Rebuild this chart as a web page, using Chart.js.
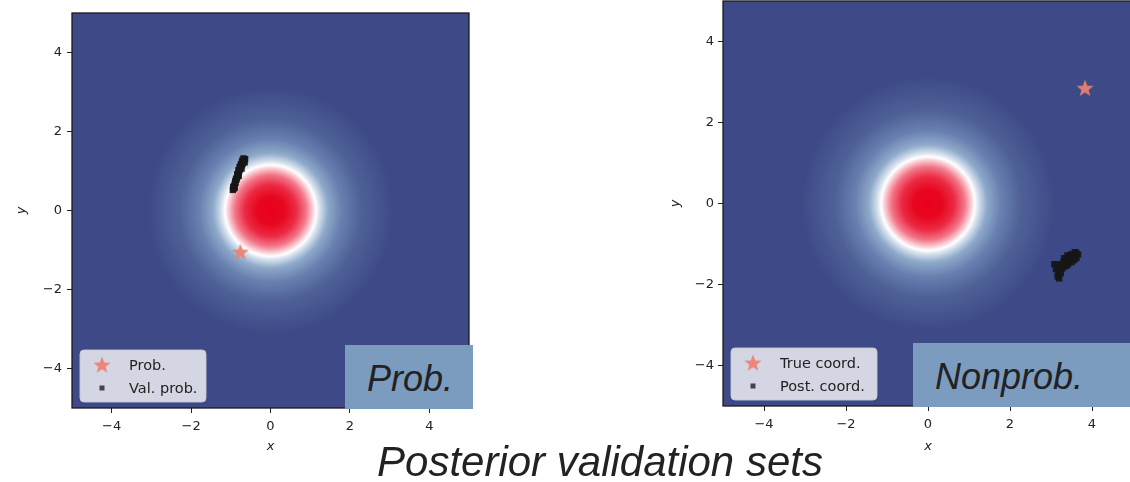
<!DOCTYPE html>
<html>
<head>
<meta charset="utf-8">
<script src="https://cdn.jsdelivr.net/npm/chart.js@4"></script>
<style>
  html, body { margin: 0; padding: 0; background: #fff; width: 1130px; height: 482px; overflow: hidden; position: relative; }
  .panel { position: absolute; top: 0; }
  .tag { position: absolute; background: #7b9bbf; overflow: hidden; }
  .tag span { position: absolute; font: italic 36px "Liberation Sans", Arial, sans-serif; line-height: 36px; color: #222; white-space: nowrap; }
  #title { position: absolute; left: 0; width: 1200px; top: 441px; text-align: center; font: italic 42px "Liberation Sans", Arial, sans-serif; line-height: 42px; color: #222; }
</style>
</head>
<body>
<canvas id="probChart" class="panel" width="480" height="460" style="left:0"></canvas>
<canvas id="nonprobChart" class="panel" width="480" height="464" style="left:660px;top:-4px"></canvas>
<div class="tag" style="left:345px;top:345px;width:128px;height:64px"><span style="left:22px;top:16px">Prob.</span></div>
<div class="tag" style="left:913px;top:343px;width:217px;height:64px"><span style="left:22px;top:16px">Nonprob.</span></div>
<div id="title">Posterior validation sets</div>
<script>
// tick values on both axes
const axisTicks = [-4, -2, 0, 2, 4];

// radial profile of the background field (distance from origin)
const fieldRadius = [0, 0.35, 0.65, 0.9, 1.05, 1.15, 1.25, 1.45, 1.8, 2.3, 3.1];
const fieldColors = ['#e8001d', '#e8061f', '#eb2a44', '#f27688', '#f9c6cd', '#ffffff',
                     '#d3dfec', '#8ea9ca', '#6880b0', '#4f6097', '#3d4a87'];

// left panel
const probTrueX = [-0.76];
const probTrueY = [-1.04];
const probValX = [-0.95, -0.93, -0.94, -0.91, -0.90, -0.88, -0.89, -0.86, -0.85, -0.87,
                  -0.83, -0.82, -0.84, -0.80, -0.79, -0.81, -0.77, -0.76, -0.78, -0.74,
                  -0.72, -0.75, -0.70, -0.69, -0.72, -0.67, -0.66, -0.70, -0.64, -0.68,
                  -0.80, -0.73, -0.90, -0.65];
const probValY = [0.52, 0.55, 0.60, 0.63, 0.68, 0.70, 0.74, 0.78, 0.82, 0.80,
                  0.86, 0.90, 0.92, 0.95, 1.00, 1.02, 1.04, 1.08, 1.10, 1.12,
                  1.15, 1.17, 1.19, 1.23, 1.24, 1.26, 1.29, 1.28, 1.30, 1.32,
                  0.88, 1.06, 0.58, 1.22];

// right panel
const nonprobTrueX = [3.83];
const nonprobTrueY = [2.86];
const nonprobPostX = [3.62, 3.66, 3.58, 3.55, 3.50, 3.45, 3.40, 3.48, 3.56, 3.38,
                      3.32, 3.42, 3.30, 3.25, 3.15, 3.08, 3.20, 3.28, 3.18, 3.24,
                      3.16, 3.20, 3.35, 3.50, 3.62, 3.12, 3.40];
const nonprobPostY = [-1.22, -1.26, -1.20, -1.30, -1.25, -1.30, -1.28, -1.38, -1.40, -1.40,
                      -1.35, -1.48, -1.45, -1.52, -1.50, -1.50, -1.60, -1.60, -1.70, -1.72,
                      -1.80, -1.85, -1.55, -1.45, -1.35, -1.62, -1.52];

const zip = (xs, ys) => xs.map((x, i) => ({x: x, y: ys[i]}));
const fmt = v => v < 0 ? '\u2212' + Math.abs(v) : String(v);

function makeStar(size, color) {
  const c = document.createElement('canvas');
  c.width = c.height = size;
  const g = c.getContext('2d');
  const r = size / 2, ri = r * 0.42;
  g.beginPath();
  for (let i = 0; i < 10; i++) {
    const rr = i % 2 ? ri : r;
    const a = -Math.PI / 2 + i * Math.PI / 5;
    g.lineTo(r + rr * Math.cos(a), r + 1 + rr * Math.sin(a));
  }
  g.closePath();
  g.fillStyle = color;
  g.fill();
  return c;
}
const starImg = makeStar(18, 'rgba(236,128,114,0.93)');
const pointColor = 'rgba(22,22,22,0.92)';

const fieldPlugin = {
  id: 'field',
  beforeDraw(chart) {
    const {ctx, chartArea: a, scales: {x, y}} = chart;
    const cx = x.getPixelForValue(0), cy = y.getPixelForValue(0);
    const unit = (x.getPixelForValue(1) - cx + cy - y.getPixelForValue(1)) / 2;
    const rMax = fieldRadius[fieldRadius.length - 1];
    const grad = ctx.createRadialGradient(cx, cy, 0, cx, cy, rMax * unit);
    fieldRadius.forEach((r, i) => grad.addColorStop(r / rMax, fieldColors[i]));
    ctx.save();
    ctx.fillStyle = grad;
    ctx.fillRect(a.left, a.top, a.right - a.left, a.bottom - a.top);
    ctx.restore();
  },
  afterDatasetsDraw(chart) {
    const {ctx, chartArea: a} = chart;
    ctx.save();
    // frame
    ctx.strokeStyle = '#1a1a1a';
    ctx.lineWidth = 1.3;
    ctx.strokeRect(a.left, a.top, a.right - a.left, a.bottom - a.top);
    // legend box, bottom left inside the plot
    const sets = chart.data.datasets;
    const bx = a.left + 8, bw = chart.options.legendWidth, bh = 52, by = a.bottom - 6 - bh;
    ctx.beginPath();
    ctx.roundRect(bx, by, bw, bh, 4);
    ctx.fillStyle = 'rgba(238,238,242,0.86)';
    ctx.fill();
    ctx.strokeStyle = 'rgba(200,200,210,0.9)';
    ctx.lineWidth = 1;
    ctx.stroke();
    ctx.font = '14.5px "DejaVu Sans"';
    ctx.fillStyle = '#222';
    ctx.textBaseline = 'middle';
    sets.forEach((ds, i) => {
      const ly = by + 15 + i * 23, lx = bx + 22;
      if (ds.pointStyle === 'rect') {
        ctx.fillStyle = '#444';
        ctx.fillRect(lx - 2.5, ly - 2.5, 5, 5);
      } else {
        ctx.drawImage(starImg, lx - 9, ly - 9.5);
      }
      ctx.fillStyle = '#222';
      ctx.fillText(ds.label, bx + 49, ly + 1);
    });
    ctx.restore();
  }
};

function axis(horizontal, width, titlePad, tickPad) {
  return {
    type: 'linear',
    min: -5,
    max: 5,
    afterBuildTicks: s => { s.ticks = axisTicks.map(v => ({value: v})); },
    afterFit: s => {
      if (horizontal) s.height = width; else s.width = width;
      s.paddingTop = s.paddingBottom = s.paddingLeft = s.paddingRight = 0;
    },
    grid: { drawOnChartArea: false, drawTicks: true, tickLength: 5, color: '#222' },
    border: { display: false },
    ticks: { color: '#222', padding: tickPad, font: { family: 'DejaVu Sans', size: 13 }, callback: fmt },
    title: {
      display: true,
      text: horizontal ? 'x' : 'y',
      color: '#222',
      font: { family: 'DejaVu Sans', size: 13, style: 'italic' },
      padding: horizontal ? { bottom: titlePad } : { top: titlePad }
    }
  };
}

function displayPanel(canvasId, trueLabel, trueData, postLabel, postData, geom) {
  const ctx = document.getElementById(canvasId).getContext('2d');
  return new Chart(ctx, {
    type: 'scatter',
    data: {
      datasets: [{
        label: trueLabel,
        data: trueData,
        pointStyle: starImg,
        backgroundColor: 'rgba(236,128,114,0.93)'
      }, {
        label: postLabel,
        data: postData,
        pointStyle: 'rect',
        pointRadius: 4.5,
        borderWidth: 0,
        backgroundColor: pointColor,
        borderColor: pointColor
      }]
    },
    options: {
      responsive: false,
      animation: false,
      events: [],
      legendWidth: geom.legendWidth,
      layout: { padding: { top: geom.top, right: geom.right, left: 0, bottom: 0 } },
      plugins: { legend: { display: false }, tooltip: { enabled: false } },
      scales: {
        x: axis(true, geom.xHeight, 6, 6),
        y: axis(false, geom.yWidth, geom.yTitlePad, geom.yTickPad)
      }
    },
    plugins: [fieldPlugin]
  });
}

displayPanel('probChart', 'Prob.', zip(probTrueX, probTrueY), 'Val. prob.', zip(probValX, probValY),
  { top: 13, right: 11, xHeight: 52, yWidth: 72, yTitlePad: 14, yTickPad: 5, legendWidth: 126 });
displayPanel('nonprobChart', 'True coord.', zip(nonprobTrueX, nonprobTrueY), 'Post. coord.', zip(nonprobPostX, nonprobPostY),
  { top: 0, right: 7, xHeight: 54, yWidth: 63, yTitlePad: 8, yTickPad: 4, legendWidth: 146 });
</script>
</body>
</html>
